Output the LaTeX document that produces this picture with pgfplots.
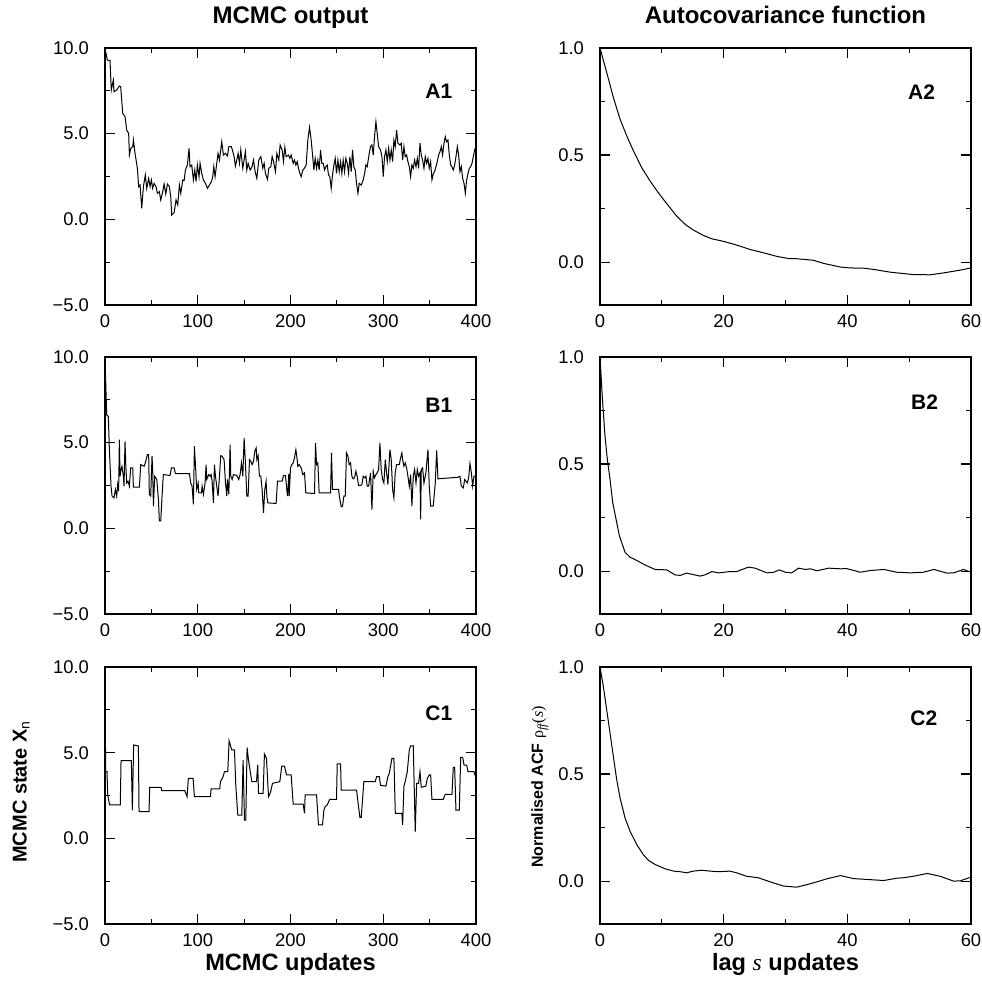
\documentclass[border=0pt]{standalone}
\usepackage{fontspec}
\setmainfont{Liberation Sans}
\newfontfamily\lserif{Liberation Serif}
\usepackage{pgfplots}
\pgfplotsset{compat=1.18}
\tikzset{plab/.style={anchor=east, font=\bfseries\fontsize{10.5}{12}\selectfont}}
\begin{document}
\begin{tikzpicture}
\path[use as bounding box] (0pt,0pt) rectangle (491pt,491pt);
\pgfplotsset{
  base/.style={scale only axis, width=185.5pt, height=128.5pt,
    axis line style={line width=0.75pt}, tick align=inside,
    major tick length=5pt, minor tick length=2.5pt,
    every tick/.style={black, line width=0.6pt},
    tick label style={font=\fontsize{9.2}{11}\selectfont},
    xticklabel style={yshift=-1.5pt}, yticklabel style={xshift=-4.5pt},
    /pgf/number format/assume math mode=true, anchor=south west},
  leftax/.style={base, xmin=0, xmax=400, ymin=-5, ymax=10,
    xtick={0,100,200,300,400}, xticklabels={0,100,200,300,400},
    minor xtick={50,150,250,350},
    ytick={-5,0,5,10}, yticklabels={−5.0,0.0,5.0,10.0},
    minor ytick={-2.5,2.5,7.5}},
  rightax/.style={base, xmin=0, xmax=60, ymin=-0.2, ymax=1.0,
    xtick={0,20,40,60}, xticklabels={0,20,40,60}, minor xtick={10,30,50},
    ytick={0,0.5,1}, yticklabels={0.0,0.5,1.0}, minor ytick={0.25,0.75}},
  trace/.style={black, line width=0.5pt, mark=none},
  ttl/.style={title style={font=\bfseries\fontsize{12}{14}\selectfont, anchor=base, yshift=6pt}},
}
% ---------------- A1
\begin{axis}[leftax, at={(52.5pt,338.5pt)}, ttl, title={MCMC output}]
\addplot[trace] coordinates {
(0,10.0)(2.5,9.30)(5.4,9.26)(6.8,7.55)(9.0,8.13)(9.7,7.45)(12.6,7.55)(15.5,7.78)(16.9,7.74)(19.1,6.19)(21.6,5.99)(23.4,5.21)(25.5,5.02)(26.3,3.75)(27.7,4.14)(29.9,4.24)(30.6,4.63)(32.4,3.85)(34.9,2.98)(36.3,1.91)(37.8,2.00)(39.6,0.64)(41.4,1.91)(43.5,2.59)(45.0,1.81)(47.1,2.39)(48.6,1.91)(50.0,2.30)(51.4,1.81)(52.9,2.10)(55.0,1.91)(56.5,1.52)(58.6,1.61)(60.1,1.13)(62.2,1.61)(63.7,2.06)(65.5,1.48)(67.3,2.06)(69.4,1.91)(70.9,1.32)(71.9,0.25)(74.5,0.39)(76.6,1.13)(78.4,0.84)(80.2,2.00)(81.7,1.52)(83.8,2.30)(85.3,2.26)(86.7,2.88)(88.8,3.17)(90.6,4.14)(91.7,3.07)(93.5,3.17)(95.3,2.30)(96.8,2.88)(98.2,2.20)(99.6,3.17)(101.4,2.49)(102.5,3.27)(104.3,2.68)(106.1,2.30)(108.3,2.10)(110.4,1.81)(112.6,2.00)(114.7,2.20)(116.2,2.49)(117.3,3.07)(118.7,2.49)(120.5,3.27)(121.9,3.85)(123.4,3.46)(125.9,4.53)(127.7,3.75)(129.9,3.85)(132.0,3.70)(133.5,4.24)(136.3,4.24)(137.8,3.95)(139.2,3.66)(140.6,3.11)(142.1,3.46)(143.5,3.85)(145.0,3.27)(146.4,4.05)(148.6,2.98)(150.0,3.46)(151.4,3.95)(152.9,2.88)(154.3,3.27)(156.5,2.88)(158.6,3.07)(160.1,3.46)(161.9,2.78)(163.7,2.39)(165.8,3.46)(168.0,3.66)(170.1,2.98)(171.6,3.27)(173.0,2.68)(175.2,2.33)(176.6,2.98)(178.8,3.07)(180.2,3.66)(181.7,3.37)(183.8,2.78)(185.3,3.85)(187.4,3.46)(188.8,4.34)(191.0,4.05)(192.4,3.37)(193.9,4.20)(195.3,3.66)(197.8,3.75)(199.3,3.56)(200.7,3.75)(202.9,3.27)(204.3,3.46)(205.8,3.17)(207.2,3.37)(208.6,2.98)(210.1,2.68)(211.5,2.49)(213.3,2.88)(215.1,2.98)(216.9,3.17)(218.7,4.63)(220.5,5.37)(222.3,4.63)(224.1,3.56)(225.2,2.88)(226.6,3.56)(228.1,2.98)(229.5,3.46)(230.9,2.88)(232.4,4.05)(233.8,3.27)(235.3,3.27)(236.7,2.88)(238.1,3.07)(239.6,3.17)(241.0,2.59)(242.4,2.49)(243.9,1.81)(245.3,2.59)(246.8,3.17)(248.2,3.56)(249.6,2.68)(251.1,3.46)(252.5,2.78)(254.0,3.37)(255.4,2.68)(256.8,3.46)(258.3,2.78)(259.7,3.56)(261.2,3.27)(262.6,2.68)(264.0,3.66)(265.5,2.78)(266.9,4.05)(268.3,3.07)(269.8,2.88)(271.2,2.10)(272.7,1.52)(274.1,2.10)(276.3,2.00)(278.4,2.30)(279.9,2.68)(281.3,3.17)(282.7,3.07)(284.9,3.85)(286.3,4.24)(287.8,4.34)(289.2,3.75)(290.6,4.82)(292.1,5.70)(293.5,5.02)(295.0,4.24)(297.1,4.05)(298.6,3.66)(300.0,2.49)(301.4,3.66)(302.9,4.05)(304.3,3.37)(305.8,4.14)(307.2,3.46)(308.6,4.05)(310.1,3.37)(311.5,4.63)(312.9,4.24)(314.4,5.21)(315.8,4.44)(318.0,4.34)(319.4,4.44)(320.9,3.46)(322.3,4.24)(323.7,3.66)(325.2,3.75)(326.6,3.37)(328.1,3.07)(329.5,2.49)(330.9,3.17)(332.4,2.98)(333.8,3.46)(335.3,3.07)(336.7,3.56)(338.1,2.98)(339.6,4.44)(341.0,3.75)(342.4,3.46)(343.9,2.98)(345.3,3.66)(346.8,3.27)(348.2,3.56)(349.6,2.98)(351.1,3.37)(352.5,2.30)(354.0,2.68)(355.4,2.78)(356.8,3.07)(358.3,3.37)(359.7,3.75)(361.2,3.95)(362.6,4.24)(364.0,3.75)(365.5,4.44)(366.9,4.82)(368.3,4.53)(369.8,4.63)(371.2,3.75)(372.7,3.17)(374.1,3.07)(375.5,2.88)(377.0,3.17)(378.4,3.66)(379.9,4.24)(381.3,3.75)(382.7,2.78)(384.2,3.07)(385.6,2.39)(387.1,2.10)(388.5,1.52)(389.9,2.30)(391.4,2.68)(392.8,2.98)(394.2,3.07)(395.7,3.27)(397.1,3.66)(398.6,4.05)(400.0,4.24)
};
\node[plab] at (rel axis cs:0.955,0.83) {A1};
\end{axis}
% ---------------- A2
\begin{axis}[rightax, at={(300pt,338.5pt)}, ttl, title={Autocovariance function}]
\addplot[trace] coordinates {
(0,1.0)(1.08,0.886)(2.16,0.769)(3.24,0.668)(4.32,0.590)(5.4,0.520)(6.75,0.441)(8.1,0.379)(9.44,0.324)(10.8,0.273)(12.4,0.215)(13.8,0.176)(15.1,0.150)(16.7,0.125)(18.1,0.109)(20,0.097)(22.1,0.080)(24.3,0.059)(26.4,0.044)(28.6,0.027)(30.5,0.017)(31.8,0.016)(34.5,0.009)(36.2,-0.006)(38.9,-0.023)(40.5,-0.027)(42.6,-0.028)(44.3,-0.034)(47,-0.047)(50.7,-0.058)(53.4,-0.059)(55.6,-0.050)(58.3,-0.037)(60,-0.027)
};
\node[plab] at (rel axis cs:0.922,0.83) {A2};
\end{axis}
% ---------------- B1
\begin{axis}[leftax, at={(52.5pt,184pt)}]
\addplot[trace] coordinates {
(0,10.0)(1.8,6.63)(3.6,6.53)(4.7,4.59)(6.5,2.46)(7.6,1.88)(9.7,1.78)(11.2,2.27)(12.6,1.88)(13.7,2.56)(14.7,2.17)(15.5,5.17)(16.2,3.04)(17.3,3.43)(18.3,3.62)(19.8,3.04)(20.5,2.46)(21.6,5.08)(22.3,3.82)(23.4,2.65)(24.8,2.75)(26.3,2.46)(27.7,3.53)(29.9,3.53)(30.6,2.40)(37.1,2.40)(38.5,3.72)(42.1,3.62)(43.5,3.82)(45.7,4.30)(47.1,4.30)(47.8,1.98)(49.3,1.88)(50.7,4.21)(51.4,3.43)(52.2,1.30)(53.6,3.04)(55.8,2.85)(57.6,1.69)(58.6,0.43)(60.1,0.43)(61.5,1.88)(62.9,3.14)(70.1,3.08)(71.6,3.53)(74.5,3.53)(75.9,3.20)(91.0,3.20)(92.4,2.65)(93.9,2.46)(95.3,1.40)(96.4,4.79)(97.8,3.43)(98.9,2.27)(100.4,2.65)(101.1,2.07)(104.0,2.07)(104.7,2.46)(106.1,1.98)(107.9,2.65)(109.0,3.72)(109.7,2.85)(111.9,3.14)(113.3,3.04)(114.4,3.14)(115.5,2.75)(116.9,1.49)(118.0,3.72)(119.1,3.04)(120.5,2.46)(121.9,1.88)(123.4,3.04)(124.8,4.24)(126.3,4.21)(128.4,4.01)(129.9,2.65)(131.3,1.88)(132.0,2.85)(133.5,1.98)(134.9,4.88)(135.6,3.04)(137.1,2.85)(138.5,3.14)(142.1,3.08)(144.2,2.85)(145.7,3.14)(147.1,3.82)(148.6,3.04)(150.0,5.27)(151.4,3.82)(152.9,1.88)(154.3,1.88)(155.8,4.01)(157.2,3.91)(158.6,3.72)(160.1,3.91)(161.5,4.50)(163.0,4.69)(163.7,4.01)(165.1,4.24)(166.5,3.04)(168.0,3.04)(169.4,2.27)(170.9,0.91)(172.3,2.27)(173.7,2.75)(174.5,1.88)(175.5,1.49)(184.5,1.45)(186.0,2.75)(191.0,2.75)(192.4,3.08)(194.6,3.08)(196.0,2.27)(196.8,1.88)(198.2,3.18)(198.6,1.88)(200.0,3.53)(201.4,3.72)(202.9,3.82)(204.3,4.11)(205.8,4.59)(207.2,4.01)(207.9,3.62)(209.4,3.72)(211.5,3.53)(213.3,3.14)(215.1,3.24)(216.5,2.07)(225.9,2.03)(227.0,4.98)(228.1,3.72)(229.5,3.82)(230.9,2.07)(243.2,2.07)(244.2,4.40)(245.3,2.27)(251.8,2.27)(253.2,1.69)(254.7,1.26)(256.1,1.30)(257.6,1.88)(259.0,1.88)(260.4,4.40)(261.9,4.21)(263.3,3.72)(264.7,3.82)(266.2,3.04)(267.6,2.89)(269.1,2.95)(270.5,3.33)(271.9,3.04)(273.4,2.50)(275.5,2.50)(277.0,2.56)(278.4,3.04)(279.9,2.95)(281.3,3.04)(282.7,2.46)(284.2,2.46)(286.3,3.24)(287.8,1.10)(289.2,3.33)(290.6,2.95)(292.1,3.14)(293.5,3.24)(295.0,3.43)(296.4,4.98)(297.8,3.43)(299.3,2.85)(300.7,2.65)(302.2,4.01)(303.6,3.24)(305.0,2.56)(307.2,4.59)(308.6,4.01)(310.1,2.27)(311.5,1.78)(312.9,3.24)(314.4,3.72)(317.3,3.72)(318.7,4.11)(320.1,4.40)(320.9,4.01)(322.3,3.62)(323.7,3.82)(325.2,3.53)(326.6,3.04)(328.1,2.46)(329.5,3.14)(330.9,1.30)(332.4,3.04)(333.8,3.43)(335.3,2.65)(336.7,3.43)(338.1,3.04)(339.6,3.24)(340.3,0.52)(341.0,3.43)(342.4,3.53)(343.9,2.65)(346.0,3.24)(348.2,4.59)(349.6,2.46)(351.1,1.30)(353.9,1.30)(356.1,2.65)(357.6,4.55)(359.0,2.89)(373.4,2.95)(380.6,2.98)(382.7,3.04)(384.2,2.46)(386.3,2.36)(387.8,2.85)(389.2,2.75)(390.6,2.65)(392.1,2.95)(393.5,3.78)(395.0,3.24)(396.4,2.46)(397.8,3.04)(400.0,3.04)
};
\node[plab] at (rel axis cs:0.955,0.813) {B1};
\end{axis}
% ---------------- B2
\begin{axis}[rightax, at={(300pt,184pt)}]
\addplot[trace] coordinates {
(0,1.0)(0.43,0.786)(0.81,0.631)(1.19,0.522)(1.62,0.429)(2.05,0.321)(2.59,0.243)(3.13,0.166)(4.05,0.088)(4.86,0.065)(5.94,0.050)(7.29,0.029)(8.9,0.008)(10.8,0.006)(12.1,-0.017)(12.95,-0.020)(14,-0.009)(16.2,-0.023)(17,-0.017)(18.1,-0.002)(19.2,-0.008)(21,-0.002)(22.1,-0.002)(24,0.019)(25.1,0.014)(27,-0.008)(28.1,-0.005)(29,0.006)(30,-0.005)(31,-0.008)(32.1,0.014)(33.2,0.008)(34,0.011)(35.1,0.002)(37,0.014)(38.9,0.011)(39.9,0.012)(42.1,-0.005)(43.7,0.003)(45.9,0.008)(48,-0.005)(50.2,-0.008)(52.3,-0.005)(54,0.008)(56.1,-0.009)(57.2,-0.008)(58.8,0.008)(60,-0.005)
};
\node[plab] at (rel axis cs:0.93,0.826) {B2};
\end{axis}
% ---------------- C1
\begin{axis}[leftax, at={(52.5pt,29pt)},
  xlabel={MCMC updates},
  xlabel style={font=\bfseries\fontsize{11.8}{14}\selectfont, at={(axis description cs:0.5,-0.18)}, anchor=base},
  ylabel={MCMC state X\textsubscript{\mdseries n}},
  ylabel style={font=\bfseries\fontsize{10}{12}\selectfont, at={(axis description cs:-0.211,0.515)}, anchor=base}]
\addplot[trace] coordinates {
(0,10)(0.7,3.89)(2.2,3.89)(2.9,2.53)(5.0,1.95)(16.5,1.95)(17.3,4.53)(28.4,4.53)(29.5,1.65)(30.9,5.45)(36.0,5.39)(36.7,1.56)(47.5,1.56)(48.2,2.98)(60.4,2.98)(61.2,2.78)(86.0,2.78)(88.5,2.43)(89.9,3.50)(95.0,3.50)(96.4,2.43)(113.7,2.43)(114.4,2.88)(123.7,2.88)(124.5,3.31)(127.3,3.60)(128.8,3.89)(132.4,3.89)(133.8,5.70)(136.7,5.16)(139.6,5.16)(141.0,3.11)(143.2,1.36)(147.5,1.36)(148.9,4.57)(150.4,1.07)(151.8,1.07)(153.2,5.31)(154.7,4.57)(158.3,3.31)(163.3,3.31)(164.7,4.28)(165.5,2.63)(170.5,2.63)(171.9,4.92)(174.1,4.67)(176.3,2.43)(178.4,2.67)(180.6,3.21)(188.5,3.31)(190.6,4.22)(193.5,4.22)(195.7,3.70)(200.7,3.70)(202.9,2.00)(213.7,2.00)(215.1,1.46)(215.8,2.53)(228.1,2.53)(230.2,0.78)(234.5,0.78)(236.0,1.65)(237.4,1.85)(239.6,1.95)(242.4,2.28)(249.6,2.28)(250.4,4.34)(254.0,4.34)(254.7,2.82)(271.2,2.82)(272.7,2.14)(274.8,1.23)(276.3,1.23)(279.1,3.31)(291.4,3.31)(292.8,3.60)(295.7,3.60)(297.1,3.09)(302.9,3.05)(305.0,3.60)(306.5,3.79)(309.4,4.67)(311.5,4.67)(313.0,1.46)(320.1,1.46)(320.9,0.78)(322.3,3.05)(323.7,3.31)(325.9,3.89)(328.1,5.16)(329.5,5.39)(332.4,5.39)(334.5,0.39)(336.0,3.21)(338.1,3.21)(339.6,3.89)(341.0,2.98)(346.0,3.05)(347.5,3.50)(349.6,3.70)(351.1,3.70)(352.5,2.28)(364.7,2.28)(366.9,2.57)(374.1,2.57)(375.5,4.14)(377.0,4.14)(378.4,1.65)(382.0,1.65)(383.5,4.73)(385.6,4.73)(387.1,4.28)(389.9,4.28)(391.4,3.89)(397.8,3.89)(400.0,3.50)
};
\node[plab] at (rel axis cs:0.955,0.82) {C1};
\end{axis}
% ---------------- C2
\begin{axis}[rightax, at={(300pt,29pt)},
  xlabel={lag {\lserif\itshape\mdseries s} updates},
  xlabel style={font=\bfseries\fontsize{11.8}{14}\selectfont, at={(axis description cs:0.5,-0.18)}, anchor=base},
  ylabel={Normalised ACF {\lserif\mdseries ρ\textsubscript{\itshape ff}(\textit{s})}},
  ylabel style={font=\bfseries\fontsize{8}{10}\selectfont, at={(axis description cs:-0.154,0.533)}, anchor=base}]
\addplot[trace] coordinates {
(0,1.0)(0.54,0.91)(1.08,0.80)(1.62,0.692)(2.16,0.583)(2.7,0.474)(3.24,0.389)(4.05,0.295)(4.86,0.233)(5.94,0.171)(7.0,0.124)(7.8,0.098)(8.9,0.078)(10.5,0.058)(11.9,0.047)(13,0.044)(14,0.039)(15.1,0.047)(16.5,0.051)(17.8,0.047)(19.2,0.044)(21,0.047)(22.1,0.039)(23.7,0.023)(25.6,0.016)(27.5,-0.003)(29.7,-0.023)(31.8,-0.028)(33.5,-0.016)(35.1,-0.003)(36.7,0.011)(38.9,0.026)(41,0.012)(43.2,0.008)(45.9,0.003)(48,0.014)(49.1,0.016)(50.7,0.023)(52.9,0.036)(55,0.023)(57.2,0.0)(58.3,0.002)(60,0.019)
};
\node[plab] at (rel axis cs:0.928,0.80) {C2};
\end{axis}
\end{tikzpicture}
\end{document}
